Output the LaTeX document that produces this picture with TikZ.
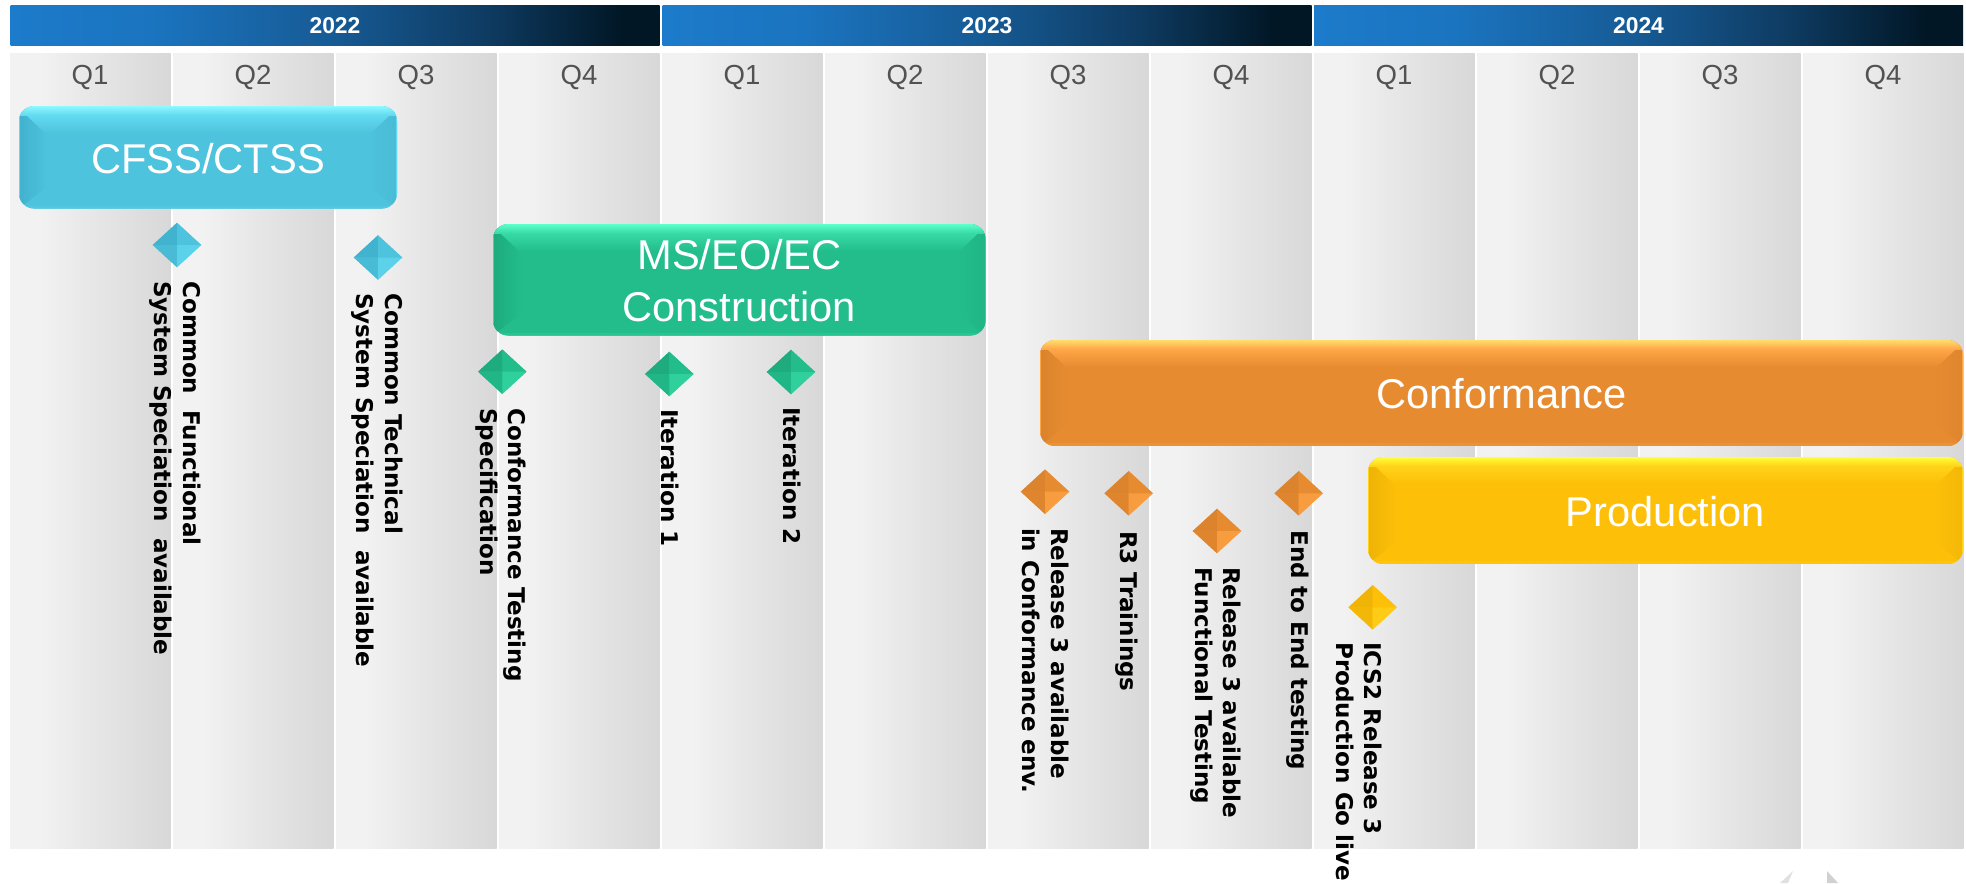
\documentclass[tikz,border=0pt]{standalone}
\usepackage{fontspec}
\setmainfont{Liberation Sans}
\newfontfamily\milefont{DejaVu Sans}
\usetikzlibrary{shapes.geometric}
\definecolor{yA}{HTML}{1C7BCB}
\definecolor{yB}{HTML}{1B74BF}
\definecolor{yC}{HTML}{165A94}
\definecolor{yD}{HTML}{0E3A60}
\definecolor{yE}{HTML}{011726}
\definecolor{qA}{HTML}{F2F2F2}
\definecolor{qB}{HTML}{E6E6E6}
\definecolor{qC}{HTML}{D8D8D8}
\pgfdeclarehorizontalshading{yearshade}{100bp}{color(0bp)=(yA); color(25bp)=(yA); color(36bp)=(yB); color(50bp)=(yC); color(62bp)=(yD); color(72bp)=(yE); color(75bp)=(yE); color(100bp)=(yE)}
\pgfdeclarehorizontalshading{quartershade}{100bp}{color(0bp)=(qA); color(25bp)=(qA); color(34bp)=(qA); color(52bp)=(qB); color(75bp)=(qC); color(100bp)=(qC)}
\definecolor{blueB}{HTML}{4DC3DD}\definecolor{blueL}{HTML}{8FF8FF}\definecolor{blueD}{HTML}{3FAFCB}\definecolor{blueH}{HTML}{62DAF0}
\definecolor{greenB}{HTML}{22BD8A}\definecolor{greenL}{HTML}{5DFFCB}\definecolor{greenD}{HTML}{1DA77B}\definecolor{greenH}{HTML}{38DAA6}
\definecolor{orangeB}{HTML}{E78B30}\definecolor{orangeL}{HTML}{FFDD6A}\definecolor{orangeD}{HTML}{D8822C}\definecolor{orangeH}{HTML}{FFA648}
\definecolor{yellowB}{HTML}{FDBF08}\definecolor{yellowL}{HTML}{FFFF3A}\definecolor{yellowD}{HTML}{EBB106}\definecolor{yellowH}{HTML}{FFD31A}
\tikzset{
  yearbar/.style={minimum height=40.4*0.02cm,inner sep=0,font=\fontsize{13}{15}\selectfont\bfseries,text=white,shading=yearshade},
  quarterlabel/.style={inner sep=0,font=\fontsize{15.7}{18}\selectfont,text=black!68},
  barlabel/.style={inner sep=0,align=center,text=white,font=\fontsize{23.7}{30}\selectfont},
  milelabel/.style={rotate=-90,anchor=north west,inner sep=0,align=left,font=\milefont\bfseries\fontsize{13.1}{16.2}\selectfont,text=black},
  milestone/.style={diamond,minimum width=48*0.02cm,minimum height=44*0.02cm,inner sep=0,shape aspect=1.09},
}
% \bevelbar{name}{x0}{y0}{x1}{y1}{colour prefix}{label}
\newcommand\bevelbar[7]{%
  \begin{scope}
    \clip[rounded corners=15*0.02cm] (#2,#3) rectangle (#4,#5);
    \fill[#6B] (#2,#3) rectangle (#4,#5);
    \shade[left color=#6D!85!#6B,right color=#6B] (#2,#3) -- (#2+28,#3+28) -- (#2+28,#5-22) -- (#2,#5) -- cycle;
    \shade[left color=#6B,right color=#6B!96!black] (#4,#3) -- (#4-28,#3+28) -- (#4-28,#5-22) -- (#4,#5) -- cycle;
    \shade[top color=#6L,bottom color=#6H] (#2,#3) rectangle (#4,#3+9);
    \shade[top color=#6H,bottom color=#6B] (#2+7,#3+9) -- (#4-7,#3+9) -- (#4-26,#3+27) -- (#2+26,#3+27) -- cycle;
    \fill[#6B!90!#6L] (#2+5,#5-3) rectangle (#4-5,#5);
    \draw[#6H,line width=0.03cm] (#2,#3) -- (#2,#5);
    \draw[#6H,line width=0.03cm] (#4,#3) -- (#4,#5);
  \end{scope}
  \node[barlabel] (#1) at ({(#2+#4)/2},{(#3+#5)/2+1}) {#7};
}
% \mile{name}{cx}{cy}{colour prefix}
\newcommand\mile[4]{%
  \node[milestone,fill=#4B] (#1) at (#2,#3) {};
  \fill[#4D!80!#4B] (#1.center) -- (#1.west) -- (#1.north) -- cycle;
  \fill[#4B] (#1.center) -- (#1.north) -- (#1.east) -- cycle;
  \fill[#4B!96!black] (#1.center) -- (#1.west) -- (#1.south) -- cycle;
  \fill[#4H!65!#4B] (#1.center) -- (#1.east) -- (#1.south) -- cycle;
}
\begin{document}
\begin{tikzpicture}[x=0.02cm,y=-0.02cm]
\useasboundingbox (0,0) rectangle (1966,883);
% year bars
\node[yearbar,minimum width=649*0.02cm] (y22) at (335,25.5) {\raisebox{-0.7pt}{2022}};
\node[yearbar,minimum width=649*0.02cm] (y23) at (987,25.5) {\raisebox{-0.7pt}{2023}};
\node[yearbar,minimum width=649*0.02cm] (y24) at (1638.5,25.5) {\raisebox{-0.7pt}{2024}};
% quarter columns
\foreach \i/\q in {0/Q1,1/Q2,2/Q3,3/Q4,4/Q1,5/Q2,6/Q3,7/Q4,8/Q1,9/Q2,10/Q3,11/Q4}{
  \shade[shading=quartershade] ({10+163*\i},53) rectangle ({170.5+163*\i},848);
  \node[quarterlabel] (q\i) at ({90+163*\i},77) {\q};
}
% faint marks at bottom right
\fill[black!12] (1780,883) -- (1793,871) -- (1788,883) -- cycle;
\fill[black!18] (1827,871) -- (1838,883) -- (1827,883) -- cycle;
% bars
\bevelbar{cfss}{19}{106}{397}{208.5}{blue}{CFSS/CTSS}
\bevelbar{ms}{493}{224}{985.5}{335.5}{green}{MS/EO/EC\\Construction}
\bevelbar{conf}{1040}{340}{1963}{446}{orange}{Conformance}
\bevelbar{prod}{1368}{457}{1963}{564}{yellow}{Production}
% milestones
\mile{m1}{177}{245}{blue}
\mile{m2}{378}{257.5}{blue}
\mile{m3}{502.3}{371.7}{green}
\mile{m4}{669.3}{374}{green}
\mile{m5}{791}{372}{green}
\mile{m6}{1045}{491.7}{orange}
\mile{m7}{1128.7}{493.3}{orange}
\mile{m8}{1217}{531}{orange}
\mile{m9}{1298.7}{493.3}{orange}
\mile{m10}{1372.7}{607.3}{yellow}
% milestone labels
\node[milelabel] (t1) at (201,281) {Common~~Functional\\System Speciation~~available};
\node[milelabel] (t2) at (403,293) {Common Technical\\System Speciation~~available};
\node[milelabel] (t3) at (526.7,408) {Conformance Testing\\Specification};
\node[milelabel] (t4) at (679,409) {Iteration 1};
\node[milelabel] (t5) at (801,407) {Iteration 2};
\node[milelabel] (t6) at (1069,527.7) {Release 3 available\\in Conformance env.};
\node[milelabel] (t7) at (1138.5,530.7) {R3 Trainings};
\node[milelabel] (t8) at (1241.7,566.7) {Release 3 available\\Functional Testing};
\node[milelabel] (t9) at (1309,530) {End to End testing};
\node[milelabel] (t10) at (1382.7,642) {ICS2 Release 3\\Production Go live};
\end{tikzpicture}
\end{document}
